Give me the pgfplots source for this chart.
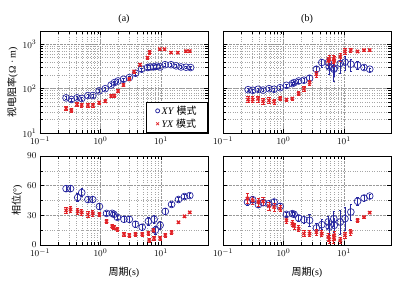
\documentclass[border=0pt]{standalone}
\usepackage{fontspec}
\setmainfont{Liberation Serif}
\newfontfamily\cjk{Noto Sans CJK SC}
\usepackage{pgfplots}
\pgfplotsset{compat=1.18}
\definecolor{xyblue}{RGB}{40,40,160}
\definecolor{yxred}{RGB}{225,35,40}
\pgfplotsset{
  xyp/.style={only marks, color=xyblue, mark=o, mark size=3.4pt, line width=0.7pt,
    error bars/y dir=both, error bars/error bar style={line width=0.7pt, color=xyblue},
    error bars/error mark options={rotate=90, mark size=1.2pt, xyblue}},
  yxp/.style={only marks, color=yxred, mark=x, mark size=2.3pt, line width=1.3pt,
    error bars/y dir=both, error bars/error bar style={line width=0.8pt, color=yxred},
    error bars/error mark options={rotate=90, mark size=1.6pt, yxred, line width=0.8pt}},
}
\begin{document}
\begin{tikzpicture}
\useasboundingbox (0,0) rectangle (404pt,-286pt);
% ---------- (a) top ----------
\begin{axis}[scale only axis, width=168pt, xmode=log, xmin=0.1, xmax=60, xtick={0.1,1,10},
  grid=both, major grid style={gray!80, densely dotted, line width=0.5pt},
  minor grid style={gray!70, dotted, line width=0.45pt},
  tick align=inside, tick style={black, line width=0.4pt}, axis line style={line width=0.6pt},
  tick label style={font=\fontsize{9.5}{10}\selectfont},
  height=102pt, at={(40pt,-133pt)}, anchor=south west,
  ymode=log, ymin=10, ymax=2000, ytick={10,100,1000},
  title={(a)}, title style={font=\fontsize{10}{11}\selectfont, yshift=-2pt},
  ylabel={{\cjk 视电阻率}(Ω · m)}, ylabel style={font=\fontsize{10}{11}\selectfont, yshift=-2pt},
  legend style={at={(1,0)}, anchor=south east, font=\fontsize{10}{11}\selectfont, draw=black,
    inner xsep=9pt, inner ysep=2pt, row sep=-1pt, line width=0.6pt},
  legend cell align=left,
  legend image post style={mark size=2pt, line width=0.8pt},
]
\addplot+[xyp, error bars/y explicit relative] coordinates {
(0.27,62)+-(0,0.08) (0.33,57)+-(0,0.08) (0.41,62)+-(0,0.08) (0.49,60)+-(0,0.08) (0.62,70)+-(0,0.08) (0.75,70)+-(0,0.08)
(0.95,89)+-(0,0.08) (1.2,100)+-(0,0.08) (1.5,121)+-(0,0.08) (1.7,137)+-(0,0.08) (1.95,149)+-(0,0.08) (2.4,163)+-(0,0.08)
(3.0,178)+-(0,0.08) (3.8,223)+-(0,0.08) (4.8,275)+-(0,0.08) (6.0,300)+-(0,0.1) (6.6,309)+-(0,0.1) (7.5,309)+-(0,0.1)
(8.5,322)+-(0,0.08) (9.7,309)+-(0,0.08) (11.7,347)+-(0,0.08) (14.7,347)+-(0,0.08) (17.8,327)+-(0,0.08) (21.5,309)+-(0,0.08)
(26,305)+-(0,0.06) (31,300)+-(0,0.06)
};
\addlegendentry{\textit{XY} {\cjk 模式}}
\addplot+[yxp, error bars/y explicit relative] coordinates {
(0.27,36)+-(0,0.1) (0.33,33)+-(0,0.1) (0.41,44)+-(0,0.1) (0.49,43)+-(0,0.1) (0.62,43)+-(0,0.1) (0.75,43)+-(0,0.1)
(0.95,49)+-(0,0.08) (1.2,52)+-(0,0.08) (1.5,68)+-(0,0.08) (1.7,70)+-(0,0.08) (1.95,89)+-(0,0.08) (2.4,121)+-(0,0.08)
(3.0,163)+-(0,0.08) (3.6,245)+-(0,0.08) (4.5,350)+-(0,0.08) (6.0,500)+-(0,0.08) (6.5,660)+-(0,0.08)
(9.6,780)+-(0,0.06) (11.5,780)+-(0,0.06) (14.7,650)+-(0,0.06) (19,650)+-(0,0.06) (26,705)+-(0,0.06) (30,705)+-(0,0.06)
};
\addlegendentry{\textit{YX} {\cjk 模式}}
\end{axis}
% ---------- (b) top ----------
\begin{axis}[scale only axis, width=168pt, xmode=log, xmin=0.1, xmax=60, xtick={0.1,1,10},
  grid=both, major grid style={gray!80, densely dotted, line width=0.5pt},
  minor grid style={gray!70, dotted, line width=0.45pt},
  tick align=inside, tick style={black, line width=0.4pt}, axis line style={line width=0.6pt},
  tick label style={font=\fontsize{9.5}{10}\selectfont},
  height=102pt, at={(223pt,-133pt)}, anchor=south west,
  ymode=log, ymin=10, ymax=2000, ytick={10,100,1000}, yticklabels={},
  title={(b)}, title style={font=\fontsize{10}{11}\selectfont, yshift=-2pt},
]
\addplot+[xyp, error bars/y explicit relative] coordinates {
(0.26,95)+-(0,0.08) (0.31,92)+-(0,0.08) (0.38,97)+-(0,0.08) (0.46,93)+-(0,0.08) (0.575,100)+-(0,0.08) (0.70,97)+-(0,0.08)
(0.88,105)+-(0,0.08) (1.12,119)+-(0,0.08) (1.4,130)+-(0,0.1) (1.5,137)+-(0,0.1) (1.78,149)+-(0,0.12) (2.18,155)+-(0,0.12)
(2.7,172)+-(0,0.15) (3.5,275)+-(0,0.15) (4.3,389)+-(0,0.2) (5.5,389)+-(0,0.25) (5.7,309)+-(0,0.3) (6.8,275)+-(0,0.45)
(6.9,290)+-(0,0.35) (8.7,370)+-(0,0.4) (10.4,396)+-(0,0.35) (13,357)+-(0,0.3) (16.8,339)+-(0,0.2) (21.5,300)+-(0,0.1)
(26.7,275)+-(0,0.08)
};
\addplot+[yxp, error bars/y explicit relative] coordinates {
(0.26,57)+-(0,0.15) (0.31,57)+-(0,0.15) (0.38,59)+-(0,0.15) (0.46,52)+-(0,0.15) (0.575,54)+-(0,0.15) (0.70,51)+-(0,0.15)
(0.88,60)+-(0,0.1) (1.12,57)+-(0,0.08) (1.4,60)+-(0,0.08) (1.78,77)+-(0,0.1) (2.18,100)+-(0,0.12) (2.7,137)+-(0,0.15)
(3.5,212)+-(0,0.15) (5.5,426)+-(0,0.2) (5.7,465)+-(0,0.2) (6.8,465)+-(0,0.2) (6.9,426)+-(0,0.25) (8.7,525)+-(0,0.2)
(10.4,692)+-(0,0.15) (13,743)+-(0,0.1) (16.8,692)+-(0,0.06) (21.5,743)+-(0,0.06) (26.7,743)+-(0,0.06)
};
\end{axis}
% ---------- (a) bottom ----------
\begin{axis}[scale only axis, width=168pt, xmode=log, xmin=0.1, xmax=60, xtick={0.1,1,10},
  grid=both, major grid style={gray!80, densely dotted, line width=0.5pt},
  minor grid style={gray!70, dotted, line width=0.45pt},
  tick align=inside, tick style={black, line width=0.4pt}, axis line style={line width=0.6pt},
  tick label style={font=\fontsize{9.5}{10}\selectfont},
  height=89pt, at={(40pt,-245pt)}, anchor=south west,
  ymin=0, ymax=90, ytick={0,30,60,90}, minor y tick num=1,
  ylabel={{\cjk 相位}(°)}, ylabel style={font=\fontsize{10}{11}\selectfont, yshift=-2pt},
  xlabel={{\cjk 周期}(s)}, xlabel style={font=\fontsize{10}{11}\selectfont, yshift=-3pt},
]
\addplot+[xyp, error bars/y explicit] coordinates {
(0.27,57)+-(0,3) (0.32,57)+-(0,3) (0.42,48)+-(0,4) (0.49,53)+-(0,4) (0.62,46)+-(0,3) (0.745,46)+-(0,3)
(0.96,39)+-(0,3) (1.26,32)+-(0,2) (1.56,32)+-(0,2) (1.67,31)+-(0,2) (1.9,28)+-(0,2) (2.45,26)+-(0,3)
(3.0,26)+-(0,3) (3.8,21)+-(0,3) (4.9,18)+-(0,3) (6.2,24)+-(0,4) (7.7,26)+-(0,4) (8.1,15)+-(0,4)
(9.7,20)+-(0,4) (11.8,34)+-(0,3) (15,41)+-(0,2) (19.5,46)+-(0,2) (24.5,49)+-(0,2) (30,50)+-(0,2)
};
\addplot+[yxp, error bars/y explicit] coordinates {
(0.27,35)+-(0,3) (0.32,36)+-(0,3) (0.42,34)+-(0,3) (0.49,33)+-(0,3) (0.62,31)+-(0,3) (0.745,32)+-(0,3)
(0.96,31)+-(0,2) (1.26,24)+-(0,2) (1.56,19)+-(0,2) (1.67,18)+-(0,2) (1.9,16)+-(0,2) (2.45,11)+-(0,2)
(3.0,10)+-(0,2) (3.8,11)+-(0,2) (4.9,11)+-(0,2) (6.2,12)+-(0,2) (6.4,5)+-(0,2) (7.5,15)+-(0,2) (7.7,7)+-(0,2)
(9.7,7)+-(0,2) (11.8,10)+-(0,2) (15,13)+-(0,2) (19.5,23)+-(0,1) (24.5,29)+-(0,1) (30,33)+-(0,1)
};
\end{axis}
% ---------- (b) bottom ----------
\begin{axis}[scale only axis, width=168pt, xmode=log, xmin=0.1, xmax=60, xtick={0.1,1,10},
  grid=both, major grid style={gray!80, densely dotted, line width=0.5pt},
  minor grid style={gray!70, dotted, line width=0.45pt},
  tick align=inside, tick style={black, line width=0.4pt}, axis line style={line width=0.6pt},
  tick label style={font=\fontsize{9.5}{10}\selectfont},
  height=89pt, at={(223pt,-245pt)}, anchor=south west,
  ymin=0, ymax=90, ytick={0,30,60,90}, minor y tick num=1, yticklabels={},
  xlabel={{\cjk 周期}(s)}, xlabel style={font=\fontsize{10}{11}\selectfont, yshift=-3pt},
]
\addplot+[xyp, error bars/y explicit] coordinates {
(0.254,43.5)+-(0,3) (0.31,45.8)+-(0,3) (0.385,40.8)+-(0,3) (0.46,42.8)+-(0,3) (0.575,41.8)+-(0,3) (0.70,43.5)+-(0,3)
(0.88,39.1)+-(0,3) (1.12,31)+-(0,2) (1.4,31.7)+-(0,2) (1.5,31)+-(0,2) (1.78,27.3)+-(0,3) (2.18,25.6)+-(0,4)
(2.7,25)+-(0,6) (3.5,17.2)+-(0,5) (4.3,20.6)+-(0,5) (5.5,23.3)+-(0,6) (5.7,18.2)+-(0,7) (6.8,26.6)+-(0,8)
(6.9,19.9)+-(0,7) (8.7,23.3)+-(0,12) (10.4,26.6)+-(0,12) (13,33.4)+-(0,8) (16.8,44.2)+-(0,4) (21.5,47.5)+-(0,3)
(26.7,49.5)+-(0,2)
};
\addplot+[yxp, error bars/y explicit] coordinates {
(0.254,46.9)+-(0,5) (0.31,45.2)+-(0,4) (0.385,43.5)+-(0,4) (0.46,44.2)+-(0,4) (0.575,39.4)+-(0,4) (0.70,38.4)+-(0,4)
(0.88,36.7)+-(0,3) (1.12,25)+-(0,3) (1.4,21.6)+-(0,3) (1.5,19.2)+-(0,3) (1.78,16.5)+-(0,3) (2.18,11.5)+-(0,3)
(2.7,11.5)+-(0,3) (3.5,13.1)+-(0,3) (4.3,11.5)+-(0,3) (5.5,8.1)+-(0,4) (5.7,5.7)+-(0,4) (6.8,5.7)+-(0,4)
(6.9,9.8)+-(0,4) (8.7,4.7)+-(0,3) (10.4,9.8)+-(0,3) (13,13.1)+-(0,3) (16.8,25)+-(0,2) (21.5,28.3)+-(0,1) (26.7,32.7)+-(0,1)
};
\end{axis}
\end{tikzpicture}
\end{document}
